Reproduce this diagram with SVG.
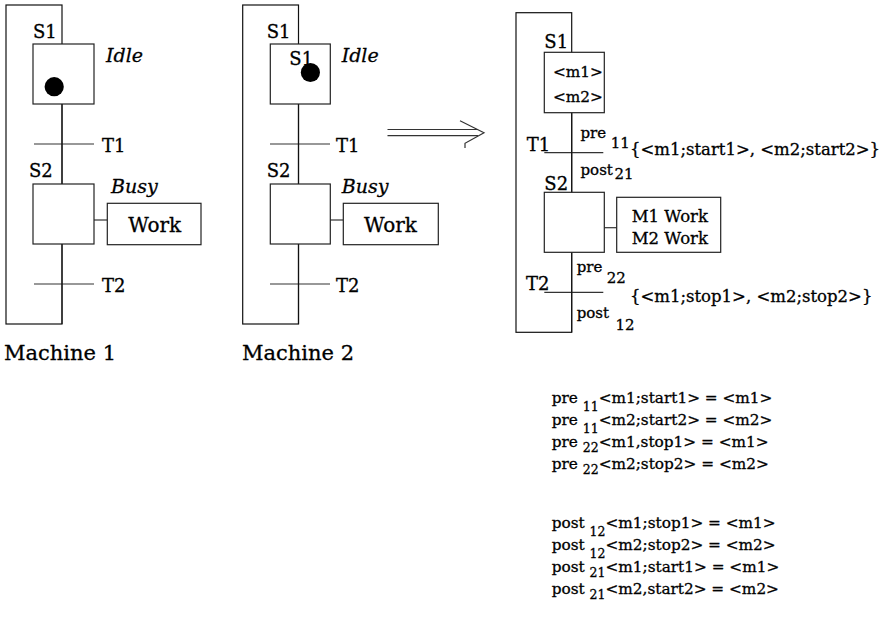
<svg xmlns="http://www.w3.org/2000/svg" width="892" height="620" viewBox="0 0 892 620">
<style>
text{font-family:"DejaVu Serif","Liberation Serif",serif;fill:#000;stroke:#000;stroke-width:0.3}
.l{font-size:18px}
.w{font-size:20px}
.it{font-size:19px;font-style:italic}
.cap{font-size:21px}
.r{font-size:16.5px}
.p{font-size:15px}
.b{font-size:15.3px}
.sub{font-size:12.5px}
.frame{fill:none;stroke:#111;stroke-width:1.2}
.box{fill:#fff;stroke:#222;stroke-width:1.2}
.ln{fill:none;stroke:#333;stroke-width:1.2}
</style>
<rect width="892" height="620" fill="#fff"/>

<!-- connectors -->
<g id="connectors">
  <!-- Machine 1 -->
  <line class="ln" x1="62" y1="104" x2="62" y2="184"/>
  <line class="ln" x1="62" y1="244" x2="62" y2="324"/>
  <line class="ln" x1="34" y1="144" x2="94" y2="144"/>
  <line class="ln" x1="34" y1="284" x2="94" y2="284"/>
  <line class="ln" x1="94" y1="220" x2="107" y2="220"/>
  <!-- Machine 2 -->
  <line class="ln" x1="298.5" y1="104" x2="298.5" y2="184"/>
  <line class="ln" x1="298.5" y1="244" x2="298.5" y2="324"/>
  <line class="ln" x1="270" y1="144" x2="330" y2="144"/>
  <line class="ln" x1="270" y1="284" x2="330" y2="284"/>
  <line class="ln" x1="330" y1="220" x2="343" y2="220"/>
  <!-- Combined -->
  <line class="ln" x1="571.7" y1="112.7" x2="571.7" y2="192.3"/>
  <line class="ln" x1="571.7" y1="252.3" x2="571.7" y2="332.3"/>
  <line class="ln" x1="544.3" y1="152.7" x2="603.3" y2="152.7"/>
  <line class="ln" x1="544.3" y1="292.3" x2="603.3" y2="292.3"/>
  <line class="ln" x1="604.3" y1="227.7" x2="616.7" y2="227.7"/>
  <!-- double arrow -->
  <line class="ln" x1="387.5" y1="129.5" x2="478" y2="129.5"/>
  <line class="ln" x1="387.5" y1="135.7" x2="478" y2="135.7"/>
  <polyline class="ln" points="460,120.7 484,132.7 465,143.3 465,148"/>
</g>

<!-- Machine 1 -->
<g id="machine1">
  <rect class="frame" x="6" y="5" width="56" height="319"/>
  <text class="l" x="33" y="38">S1</text>
  <text class="l" x="102" y="152">T1</text>
  <text class="l" x="29" y="177">S2</text>
  <text class="l" x="102" y="292">T2</text>
  <text class="cap" x="4" y="360">Machine 1</text>
</g>
<g id="m1-s1">
  <rect class="box" x="33" y="44" width="61" height="60"/>
  <circle cx="54.2" cy="86.7" r="9.6" fill="#000"/>
  <text class="it" x="106" y="62">Idle</text>
</g>
<g id="m1-s2">
  <rect class="box" x="33" y="184" width="61" height="60"/>
  <text class="it" x="111" y="193">Busy</text>
</g>
<g id="m1-work">
  <rect class="box" x="107.3" y="203.3" width="93.7" height="41.4"/>
  <text class="w" x="128.3" y="231.7">Work</text>
</g>

<!-- Machine 2 -->
<g id="machine2">
  <rect class="frame" x="242.7" y="5" width="55.8" height="319"/>
  <text class="l" x="266.7" y="38">S1</text>
  <text class="l" x="336" y="152">T1</text>
  <text class="l" x="266.7" y="177">S2</text>
  <text class="l" x="336" y="292">T2</text>
  <text class="cap" x="242" y="360">Machine 2</text>
</g>
<g id="m2-s1">
  <rect class="box" x="270.3" y="44" width="60" height="60"/>
  <text class="l" x="289.3" y="65">S1</text>
  <circle cx="310.4" cy="72.5" r="9.6" fill="#000"/>
  <text class="it" x="341.7" y="62">Idle</text>
</g>
<g id="m2-s2">
  <rect class="box" x="270.3" y="184" width="60" height="60"/>
  <text class="it" x="341.7" y="193">Busy</text>
</g>
<g id="m2-work">
  <rect class="box" x="343.3" y="203.3" width="95" height="41.4"/>
  <text class="w" x="364" y="231.7">Work</text>
</g>

<!-- Combined -->
<g id="combined">
  <rect class="frame" x="516" y="12.7" width="55.7" height="319.6"/>
  <text class="l" x="544.3" y="48.3">S1</text>
  <text class="l" x="526.7" y="151">T1</text>
  <text class="l" x="544.3" y="190">S2</text>
  <text class="l" x="526" y="290">T2</text>
</g>
<g id="c-s1">
  <rect class="box" x="544.3" y="52.3" width="60" height="60.4"/>
  <text class="b" x="553" y="77">&lt;m1&gt;</text>
  <text class="b" x="553" y="102">&lt;m2&gt;</text>
</g>
<g id="c-t1-labels">
  <text class="p" x="580.5" y="138.3">pre</text>
  <text class="p" x="610.7" y="148.3">11</text>
  <text class="r" x="630" y="155">{&lt;m1;start1&gt;, &lt;m2;start2&gt;}</text>
  <text class="p" x="580.5" y="175">post</text>
  <text class="p" x="614.5" y="179.3">21</text>
</g>
<g id="c-s2">
  <rect class="box" x="544.3" y="192.3" width="60" height="60"/>
</g>
<g id="c-work">
  <rect class="box" x="616.7" y="197.3" width="104" height="55"/>
  <text class="r" x="631.7" y="222.3">M1 Work</text>
  <text class="r" x="631.7" y="244.3">M2 Work</text>
</g>
<g id="c-t2-labels">
  <text class="p" x="576.7" y="271.7">pre</text>
  <text class="p" x="606.7" y="283.3">22</text>
  <text class="r" x="630" y="301.7">{&lt;m1;stop1&gt;, &lt;m2;stop2&gt;}</text>
  <text class="p" x="576.7" y="318.3">post</text>
  <text class="p" x="615.5" y="330">12</text>
</g>

<!-- equations -->
<g id="equations">
  <text class="b" x="551.7" y="403">pre <tspan class="sub" dy="8">11</tspan><tspan dy="-8">&lt;m1;start1&gt; = &lt;m1&gt;</tspan></text>
  <text class="b" x="551.7" y="425">pre <tspan class="sub" dy="8">11</tspan><tspan dy="-8">&lt;m2;start2&gt; = &lt;m2&gt;</tspan></text>
  <text class="b" x="551.7" y="447">pre <tspan class="sub" dy="5">22</tspan><tspan dy="-5">&lt;m1,stop1&gt; = &lt;m1&gt;</tspan></text>
  <text class="b" x="551.7" y="469">pre <tspan class="sub" dy="5">22</tspan><tspan dy="-5">&lt;m2;stop2&gt; = &lt;m2&gt;</tspan></text>
  <text class="b" x="551.7" y="528">post <tspan class="sub" dy="8">12</tspan><tspan dy="-8">&lt;m1;stop1&gt; = &lt;m1&gt;</tspan></text>
  <text class="b" x="551.7" y="550">post <tspan class="sub" dy="8">12</tspan><tspan dy="-8">&lt;m2;stop2&gt; = &lt;m2&gt;</tspan></text>
  <text class="b" x="551.7" y="572">post <tspan class="sub" dy="5">21</tspan><tspan dy="-5">&lt;m1;start1&gt; = &lt;m1&gt;</tspan></text>
  <text class="b" x="551.7" y="594">post <tspan class="sub" dy="5">21</tspan><tspan dy="-5">&lt;m2,start2&gt; = &lt;m2&gt;</tspan></text>
</g>
</svg>
